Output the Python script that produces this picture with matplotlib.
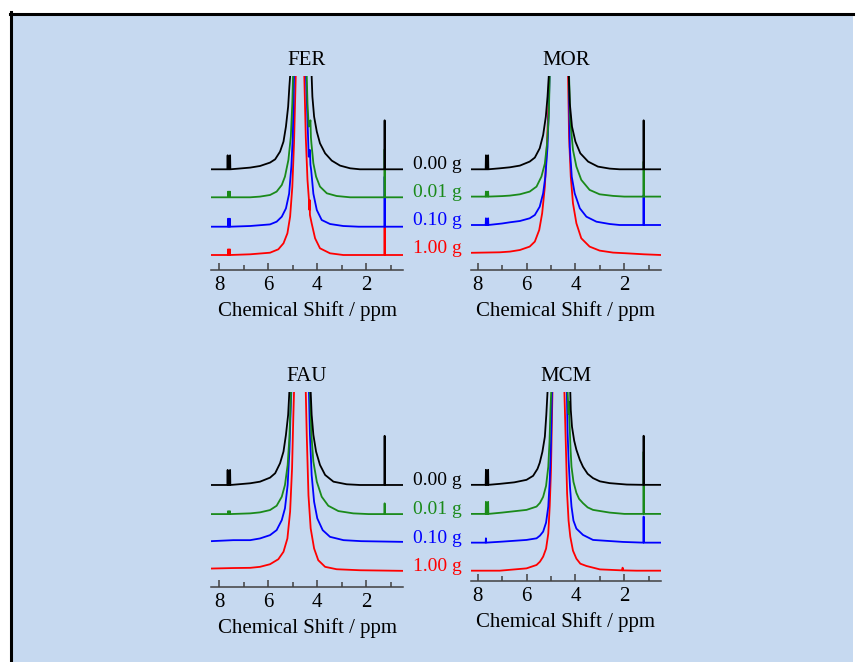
import matplotlib
matplotlib.use("Agg")
import matplotlib.pyplot as plt
from matplotlib.patches import Rectangle
from matplotlib.lines import Line2D
from matplotlib.ticker import MultipleLocator
from matplotlib.transforms import blended_transform_factory

plt.rcParams['font.family'] = ['Liberation Serif', 'DejaVu Serif']

# --- data: (ppm, intensity above own baseline) ---
samples = ["0.00 g", "0.01 g", "0.10 g", "1.00 g"]
sample_colors = ["#000000", "#1a8a1a", "#0000ff", "#ff0000"]
panels = ["FER", "MOR", "FAU", "MCM"]

FER_000 = [(8.32, 0), (7.66, 0), (7.65, 14), (7.64, 0), (7.56, 0), (7.55, 14), (7.54, 0), (7.2, 0.7),
           (6.73, 1.7), (6.33, 3.3), (5.92, 6.7), (5.71, 10), (5.51, 17.7), (5.37, 27.7), (5.27, 42.7),
           (5.18, 62.7), (5.13, 82.7), (5.10, 93), (5.09, 300), (4.68, 2000), (4.23, 300), (4.22, 93),
           (4.19, 72.7), (4.12, 52.7), (4.01, 37.7), (3.88, 26), (3.67, 16), (3.4, 8.7), (3.06, 3.7),
           (2.65, 1), (2.25, 0), (1.25, 0), (1.24, 49), (1.23, 0), (0.49, 0)]
FER_001 = [(8.32, 0), (7.64, 0), (7.63, 5.7), (7.62, 0), (7.57, 0), (7.56, 5.7), (7.55, 0), (6.73, 0),
           (6.33, 0.7), (5.92, 2.3), (5.65, 5.7), (5.44, 12.3), (5.31, 20.7), (5.17, 37.3), (5.07, 60.7),
           (5.01, 94), (4.98, 121), (4.96, 300), (4.68, 2000), (4.43, 300), (4.42, 121), (4.39, 94),
           (4.34, 70.7), (4.30, 72), (4.27, 77), (4.25, 60), (4.23, 54), (4.15, 34), (4.04, 20.7),
           (3.88, 10.7), (3.6, 4), (3.2, 1.3), (2.65, 0), (1.25, 0), (1.24, 48), (1.23, 0), (0.49, 0)]
FER_010 = [(8.32, 0), (7.64, 0), (7.63, 8), (7.62, 0), (7.57, 0), (7.56, 8), (7.55, 0), (6.73, 0.7),
           (5.92, 2.3), (5.65, 5), (5.44, 10), (5.27, 18.3), (5.14, 33), (5.05, 60), (4.99, 90),
           (4.94, 150), (4.92, 300), (4.68, 2000), (4.46, 300), (4.45, 150), (4.39, 106.7), (4.34, 70),
           (4.31, 72), (4.29, 76.7), (4.27, 62), (4.24, 56.7), (4.15, 33), (4.01, 16.7), (3.81, 6.7),
           (3.47, 2.7), (2.93, 0.7), (2.3, 0), (1.25, 0), (1.24, 50), (1.23, 0), (0.49, 0)]
FER_100 = [(8.32, 0), (7.64, 0), (7.63, 5.7), (7.62, 0), (7.57, 0), (7.56, 5.7), (7.55, 0), (6.73, 0.7),
           (5.92, 2.3), (5.58, 5.7), (5.37, 11.7), (5.21, 21.7), (5.10, 38.3), (5.01, 68), (4.94, 111.7),
           (4.87, 179), (4.85, 400), (4.70, 2000), (4.53, 400), (4.52, 179), (4.46, 118), (4.39, 75),
           (4.32, 51.7), (4.31, 45), (4.30, 55), (4.29, 40), (4.22, 31.7), (4.08, 16.7), (3.88, 6.7),
           (3.47, 1.7), (2.93, 0), (1.25, 0), (1.24, 29), (1.23, 0), (0.49, 0)]

MOR_000 = [(8.27, 0), (7.67, 0), (7.66, 14), (7.65, 0), (7.58, 0), (7.57, 14), (7.56, 0), (7.09, 1),
           (6.68, 2), (6.27, 3.7), (5.87, 7.7), (5.66, 11.7), (5.46, 21), (5.32, 34.3), (5.21, 52.7),
           (5.14, 72.7), (5.09, 93), (5.07, 300), (4.68, 2000), (4.28, 300), (4.27, 93), (4.23, 66),
           (4.14, 42.7), (4.0, 27.7), (3.8, 16), (3.48, 7.7), (3.08, 2.7), (2.6, 0.7), (2.19, 0),
           (1.22, 0), (1.21, 49), (1.20, 0), (0.50, 0)]
MOR_001 = [(8.27, 0), (7.67, 0), (7.66, 5), (7.65, 0), (7.58, 0), (7.57, 5), (7.56, 0), (7.0, 0.5),
           (6.68, 1), (6.27, 2.3), (5.87, 5), (5.59, 10), (5.39, 20), (5.25, 33), (5.16, 53), (5.09, 80),
           (5.05, 121), (5.03, 300), (4.68, 2000), (4.27, 300), (4.26, 121), (4.21, 76.7), (4.10, 46.7),
           (3.96, 30), (3.76, 16.7), (3.42, 6.7), (3.01, 2.3), (2.46, 0.7), (2.0, 0), (1.22, 0),
           (1.21, 35), (1.20, 0), (0.50, 0)]
MOR_010 = [(8.27, 0), (7.67, 0), (7.66, 6.7), (7.65, 0), (7.58, 0), (7.57, 6.7), (7.56, 0), (7.0, 1.5),
           (6.68, 2.7), (6.27, 4), (5.87, 6.7), (5.66, 10), (5.46, 18.3), (5.32, 31.7), (5.23, 48.3),
           (5.14, 78.3), (5.09, 115), (5.06, 149), (5.04, 300), (4.68, 2000), (4.28, 300), (4.27, 149),
           (4.23, 78), (4.15, 48.3), (4.03, 31.7), (3.82, 16.7), (3.55, 8.3), (3.14, 3.3), (2.6, 1),
           (2.19, 0), (1.22, 0), (1.21, 30), (1.20, 0), (0.50, 0)]
MOR_100 = [(8.27, 0.5), (7.09, 1), (6.68, 1.7), (6.27, 3.3), (5.87, 6.7), (5.66, 11.7), (5.48, 23.3),
           (5.36, 40), (5.25, 66.7), (5.16, 110), (5.10, 150), (5.08, 177), (5.06, 400), (4.68, 2000),
           (4.31, 400), (4.30, 177), (4.26, 116.7), (4.19, 76.7), (4.10, 50), (3.96, 30), (3.76, 15),
           (3.42, 6.7), (3.01, 2.7), (2.46, 0.7), (1.91, 0), (1.2, -1), (0.50, -1.7)]

FAU_000 = [(8.32, 0), (7.66, 0), (7.65, 15), (7.64, 0), (7.56, 0), (7.55, 15), (7.54, 0), (6.73, 1.7),
           (6.33, 3.3), (5.92, 7.3), (5.71, 11.7), (5.51, 21.7), (5.37, 33.3), (5.27, 50), (5.18, 70),
           (5.13, 93), (5.11, 300), (4.68, 2000), (4.27, 300), (4.26, 93), (4.22, 70), (4.15, 50),
           (4.04, 33.3), (3.88, 20), (3.67, 10), (3.33, 3.3), (2.79, 0.7), (2.25, 0), (1.25, 0),
           (1.24, 49), (1.23, 0), (0.49, 0)]
FAU_001 = [(8.32, 0), (7.64, 0), (7.63, 3), (7.62, 0), (7.57, 0), (7.56, 3), (7.55, 0), (6.73, 0.7),
           (6.33, 1.7), (5.92, 4), (5.65, 8.3), (5.44, 17.3), (5.31, 29), (5.20, 49), (5.13, 75.7),
           (5.09, 102), (5.06, 122), (5.04, 300), (4.68, 2000), (4.30, 300), (4.29, 122), (4.23, 79),
           (4.15, 52.3), (4.01, 32.3), (3.81, 17.3), (3.54, 8.3), (3.13, 3), (2.52, 0.7), (1.9, 0),
           (1.25, 0), (1.24, 10.7), (1.23, 0), (0.49, 0)]
FAU_010 = [(8.32, 0), (7.42, 1), (6.73, 1), (6.33, 2.7), (5.92, 6), (5.65, 11), (5.44, 21), (5.31, 32.7),
           (5.20, 56), (5.13, 89.3), (5.08, 129), (5.05, 149), (5.03, 300), (4.68, 2000), (4.34, 300),
           (4.33, 149), (4.29, 106), (4.22, 66), (4.12, 39.3), (3.99, 22.7), (3.77, 11), (3.47, 4.3),
           (2.92, 1), (2.2, 0), (0.49, -0.7)]
FAU_100 = [(8.32, 0), (7.42, 0.5), (6.73, 0.7), (6.33, 1.7), (5.92, 4.3), (5.58, 9.3), (5.37, 16.7),
           (5.21, 30), (5.10, 56.7), (5.02, 100), (4.97, 150), (4.94, 176), (4.92, 400), (4.68, 2000),
           (4.47, 400), (4.46, 176), (4.42, 133), (4.35, 73), (4.26, 40), (4.12, 20), (3.95, 8.3),
           (3.67, 1.7), (3.2, -0.7), (2.25, -1.7), (0.49, -2.3)]

MCM_000 = [(8.27, 0), (7.67, 0), (7.66, 15), (7.65, 0), (7.58, 0), (7.57, 15), (7.56, 0), (7.09, 1),
           (6.5, 2.5), (6.0, 5), (5.73, 9), (5.55, 16), (5.46, 22), (5.35, 33), (5.25, 48), (5.19, 70),
           (5.14, 93), (5.12, 300), (4.68, 2000), (4.22, 300), (4.21, 93), (4.19, 75), (4.14, 58),
           (4.05, 44), (3.96, 35), (3.82, 25), (3.69, 18), (3.5, 11), (3.28, 6.7), (3.0, 3.5),
           (2.6, 1.7), (1.9, 0.3), (1.22, 0), (1.21, 49), (1.20, 0), (0.50, 0)]
MCM_001 = [(8.27, 0), (7.67, 0), (7.66, 12), (7.65, 0), (7.58, 0), (7.57, 12), (7.56, 0), (7.0, 1.3),
           (6.0, 4), (5.59, 7.3), (5.45, 11), (5.32, 17), (5.2, 28), (5.11, 47), (5.06, 72), (5.02, 104),
           (4.99, 122), (4.97, 300), (4.68, 2000), (4.33, 300), (4.32, 122), (4.28, 100), (4.26, 112),
           (4.25, 97), (4.20, 65), (4.16, 47), (4.08, 32), (3.96, 21), (3.85, 15), (3.69, 10.7),
           (3.5, 6.5), (3.28, 4), (2.6, 1.3), (2.0, 0), (1.22, 0), (1.21, 62), (1.20, 0), (0.50, 0)]
MCM_010 = [(8.27, 0), (7.67, 0), (7.66, 4.3), (7.65, 0), (7.0, 1), (6.0, 2.7), (5.59, 4.3), (5.45, 7),
           (5.32, 11), (5.2, 20), (5.11, 36), (5.05, 62), (5.0, 99), (4.96, 150), (4.94, 300),
           (4.68, 2000), (4.36, 300), (4.35, 150), (4.32, 110), (4.28, 83), (4.22, 55), (4.16, 36),
           (4.08, 22), (3.96, 14), (3.69, 7.7), (3.28, 2.7), (2.05, 0.7), (1.22, 0), (1.21, 26),
           (1.20, 0), (0.50, 0)]
MCM_100 = [(8.27, 0), (7.09, 0), (6.0, 2.3), (5.59, 5.7), (5.45, 9), (5.32, 14), (5.2, 22), (5.11, 37),
           (5.05, 65), (5.0, 100), (4.94, 178), (4.92, 400), (4.68, 2000), (4.46, 400), (4.45, 178),
           (4.38, 115), (4.34, 77), (4.28, 50), (4.21, 34), (4.1, 20), (3.96, 12), (3.8, 7), (3.55, 4.7),
           (3.0, 1.3), (2.08, 0.3), (2.07, 3), (2.06, 0.3), (1.5, 0), (0.50, 0)]

spectra = {
    "FER": [FER_000, FER_001, FER_010, FER_100],
    "MOR": [MOR_000, MOR_001, MOR_010, MOR_100],
    "FAU": [FAU_000, FAU_001, FAU_010, FAU_100],
    "MCM": [MCM_000, MCM_001, MCM_010, MCM_100],
}

# --- layout (pixels in a 856x662 canvas) ---
W, H = 856, 662
boxes = {"FER": (211, 403, 76, 270), "MOR": (471, 661, 76, 270),
         "FAU": (211, 403, 392, 587), "MCM": (471, 661, 392, 581)}
xlims = {"FER": (8.33, 0.49), "MOR": (8.27, 0.50), "FAU": (8.33, 0.49), "MCM": (8.27, 0.50)}
offsets = {"FER": [85.7, 57.7, 28.3, 0], "MOR": [84, 56.7, 28.3, 0],
           "FAU": [83.3, 54.3, 27.3, 0], "MCM": [85.7, 56.7, 28, 0]}
ylims = {"FER": (-15, 179), "MOR": (-16.7, 177.3), "FAU": (-18.4, 176), "MCM": (-10.3, 178.4)}

fig = plt.figure(figsize=(W / 100, H / 100), dpi=100)
fig.patch.set_facecolor("white")
fig.patches.append(Rectangle((11 / W, 0), (853 - 11) / W, (H - 14) / H, transform=fig.transFigure,
                             facecolor="#c6d9f0", edgecolor="none", zorder=-5))
fig.add_artist(Line2D([10 / W, 853 / W], [1 - 13.5 / H] * 2, color="black", lw=2.2))
fig.add_artist(Line2D([10.5 / W] * 2, [0, 1 - 12 / H], color="black", lw=2.2))

axis_col = "#404040"
for name in panels:
    l, r, t, b = boxes[name]
    ax = fig.add_axes([l / W, 1 - b / H, (r - l) / W, (b - t) / H])
    ax.set_facecolor("none")
    # draw red first so black sits on top
    for i in [3, 2, 1, 0]:
        pts = spectra[name][i]
        xs = [p[0] for p in pts]
        ys = [p[1] + offsets[name][i] for p in pts]
        ax.plot(xs, ys, color=sample_colors[i], lw=1.3, solid_joinstyle="round")
    ax.set_xlim(*xlims[name])
    ax.set_ylim(*ylims[name])
    for s in ["top", "left", "right"]:
        ax.spines[s].set_visible(False)
    ax.spines["bottom"].set_color(axis_col)
    ax.spines["bottom"].set_linewidth(1.1)
    ax.set_yticks([])
    ax.xaxis.set_major_locator(MultipleLocator(2))
    ax.xaxis.set_minor_locator(MultipleLocator(1))
    ax.tick_params(axis="x", which="major", direction="in", length=5, width=1.1,
                   color=axis_col, labelsize=15, pad=4)
    ax.tick_params(axis="x", which="minor", direction="in", length=3.3, width=1.1, color=axis_col)
    ax.set_xlabel("Chemical Shift / ppm", fontsize=15, labelpad=5)
    ax.set_title(name, fontsize=15, pad=8)

    if name in ("MOR", "MCM"):
        tr = blended_transform_factory(ax.transAxes, ax.transData)
        for i, lab in enumerate(samples):
            ax.text((462 - l) / (r - l), offsets[name][i], lab, transform=tr, ha="right",
                    va="baseline", fontsize=14, color=sample_colors[i], clip_on=False)

fig.savefig("out.png", dpi=100, facecolor=fig.get_facecolor())
